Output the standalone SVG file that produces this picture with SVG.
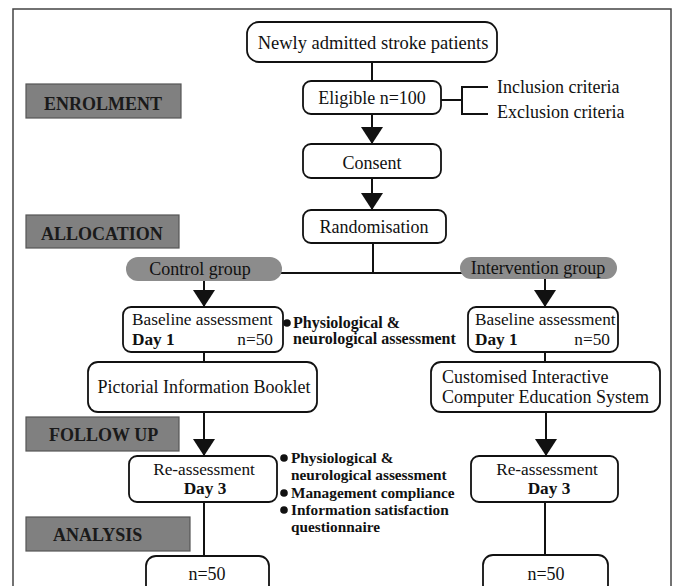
<svg xmlns="http://www.w3.org/2000/svg" width="679" height="586" viewBox="0 0 679 586">
<style>
  text { font-family: "Liberation Serif", "Times New Roman", serif; fill: #111; }
  .t { font-size: 18px; }
  .s { font-size: 17.3px; }
  .b { font-weight: bold; }
  .box { fill: #fff; stroke: #111; stroke-width: 1.8; }
  .lab { fill: #808080; stroke: #555; stroke-width: 1.2; }
  .labt { font-size: 18px; font-weight: bold; fill: #1a1a1a; }
  .pill { fill: #8c8c8c; stroke: none; }
  .ln { stroke: #111; stroke-width: 2; fill: none; }
  .bul { font-size: 16px; font-weight: bold; }
  .bul2 { font-size: 15.3px; font-weight: bold; }
</style>
<defs>
  <marker id="ah" viewBox="0 0 17 22" markerWidth="17" markerHeight="22" refX="17" refY="11" orient="auto" markerUnits="userSpaceOnUse">
    <path d="M0,0 L17,11 L0,22 z" fill="#111"/>
  </marker>
</defs>
<rect x="0" y="0" width="679" height="586" fill="#fff"/>
<rect x="13" y="9" width="658" height="600" fill="none" stroke="#444" stroke-width="1.5"/>

<g id="connectors">
  <line class="ln" x1="372" y1="62" x2="372" y2="81"/>
  <line class="ln" x1="372" y1="114" x2="372" y2="144" marker-end="url(#ah)"/>
  <line class="ln" x1="372" y1="178" x2="372" y2="210" marker-end="url(#ah)"/>
  <line class="ln" x1="373" y1="243" x2="373" y2="273"/>
  <line class="ln" x1="270" y1="273" x2="470" y2="273"/>
  <line class="ln" x1="204" y1="281" x2="204" y2="307" marker-end="url(#ah)"/>
  <line class="ln" x1="545" y1="279" x2="545" y2="307" marker-end="url(#ah)"/>
  <line class="ln" x1="204" y1="352" x2="204" y2="362"/>
  <line class="ln" x1="545" y1="352" x2="545" y2="362"/>
  <line class="ln" x1="204" y1="412" x2="204" y2="456" marker-end="url(#ah)"/>
  <line class="ln" x1="546" y1="412" x2="546" y2="456" marker-end="url(#ah)"/>
  <line class="ln" x1="204" y1="502" x2="204" y2="556"/>
  <line class="ln" x1="545" y1="502" x2="545" y2="555"/>
  <path class="ln" d="M441,100 H462 M488,87 H462 V114 H488"/>
</g>

<g id="enrolment"><rect class="lab" x="26" y="84" width="155" height="34"/><text class="labt" x="44" y="110">ENROLMENT</text></g>
<g id="allocation"><rect class="lab" x="26" y="215" width="153" height="33"/><text class="labt" x="41" y="240">ALLOCATION</text></g>
<g id="followup"><rect class="lab" x="26" y="417" width="153" height="34"/><text class="labt" x="49" y="441">FOLLOW UP</text></g>
<g id="analysis"><rect class="lab" x="26" y="517" width="164" height="34"/><text class="labt" x="53" y="541">ANALYSIS</text></g>

<g id="newly"><rect class="box" x="247" y="22" width="250" height="40" rx="12"/><text class="t" x="373" y="49" text-anchor="middle" style="font-size:18.5px">Newly admitted stroke patients</text></g>
<g id="eligible"><rect class="box" x="303" y="81" width="138" height="33" rx="8"/><text class="t" x="372" y="104" text-anchor="middle">Eligible n=100</text></g>
<g id="criteria"><text class="t" x="497" y="93">Inclusion criteria</text><text class="t" x="497" y="118">Exclusion criteria</text></g>
<g id="consent"><rect class="box" x="303" y="144" width="138" height="34" rx="8"/><text class="t" x="372" y="169" text-anchor="middle">Consent</text></g>
<g id="randomisation"><rect class="box" x="303" y="210" width="143" height="33" rx="8"/><text class="t" x="374" y="233" text-anchor="middle">Randomisation</text></g>

<g id="control"><rect class="pill" x="126" y="257" width="156" height="24" rx="12"/><text class="t" x="200" y="275" text-anchor="middle" fill="#222">Control group</text></g>
<g id="intervention"><rect class="pill" x="460" y="257" width="157" height="22" rx="11"/><text class="t" x="538" y="274" text-anchor="middle">Intervention group</text></g>

<g id="baseline-left"><rect class="box" x="123" y="307" width="160" height="45" rx="8"/>
  <text class="s" x="132" y="325">Baseline assessment</text>
  <text class="s b" x="132" y="345">Day 1</text>
  <text class="s" x="273" y="345" text-anchor="end">n=50</text></g>
<g id="baseline-right"><rect class="box" x="468" y="307" width="150" height="45" rx="8"/>
  <text class="s" x="475" y="325">Baseline assessment</text>
  <text class="s b" x="475" y="345">Day 1</text>
  <text class="s" x="610" y="345" text-anchor="end">n=50</text></g>

<g id="note-baseline">
  <circle cx="287" cy="323" r="3.8" fill="#111"/>
  <text class="bul" x="293" y="328">Physiological &amp;</text>
  <text class="bul" x="293" y="344">neurological assessment</text>
</g>

<g id="booklet"><rect class="box" x="88" y="362" width="229" height="50" rx="10"/><text class="t" x="204" y="393" text-anchor="middle">Pictorial Information Booklet</text></g>
<g id="cices"><rect class="box" x="431" y="362" width="229" height="50" rx="10"/>
  <text class="t" x="442" y="383">Customised Interactive</text>
  <text class="t" x="442" y="403">Computer Education System</text></g>

<g id="reassess-left"><rect class="box" x="129" y="456" width="148" height="46" rx="8"/>
  <text class="s" x="204" y="475" text-anchor="middle">Re-assessment</text>
  <text class="s b" x="205" y="494" text-anchor="middle">Day 3</text></g>
<g id="reassess-right"><rect class="box" x="471" y="456" width="147" height="46" rx="8"/>
  <text class="s" x="547" y="475" text-anchor="middle">Re-assessment</text>
  <text class="s b" x="549" y="494" text-anchor="middle">Day 3</text></g>

<g id="note-followup">
  <circle cx="284" cy="458" r="3.8" fill="#111"/>
  <text class="bul2" x="291" y="463">Physiological &amp;</text>
  <text class="bul2" x="291" y="480">neurological assessment</text>
  <circle cx="284" cy="493" r="3.8" fill="#111"/>
  <text class="bul2" x="291" y="498">Management compliance</text>
  <circle cx="284" cy="510" r="3.8" fill="#111"/>
  <text class="bul2" x="291" y="515">Information satisfaction</text>
  <text class="bul2" x="291" y="532">questionnaire</text>
</g>

<g id="n50-left"><rect class="box" x="146" y="556" width="123" height="40" rx="10"/><text class="t" x="207" y="580" text-anchor="middle">n=50</text></g>
<g id="n50-right"><rect class="box" x="483" y="555" width="125" height="40" rx="10"/><text class="t" x="546" y="580" text-anchor="middle">n=50</text></g>
</svg>
